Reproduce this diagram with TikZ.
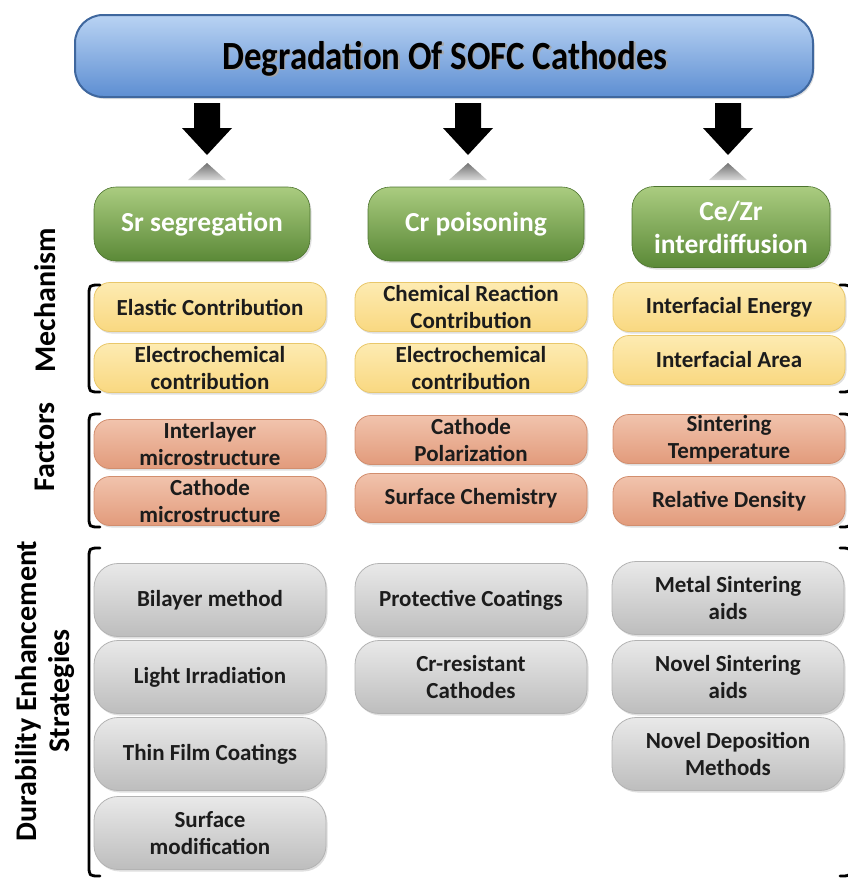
\documentclass[tikz,border=0pt]{standalone}
\usepackage{fontspec}
\setmainfont{Carlito}
\usetikzlibrary{shadows}

\definecolor{titletop}{HTML}{B9D3F3}
\definecolor{titlebot}{HTML}{5D8ED2}
\definecolor{titleedge}{HTML}{3F679E}
\definecolor{greentop}{HTML}{AACC80}
\definecolor{greenbot}{HTML}{5B8937}
\definecolor{mechtop}{HTML}{FDEBB2}
\definecolor{mechbot}{HTML}{F9D880}
\definecolor{mechedge}{HTML}{E9C76A}
\definecolor{factop}{HTML}{F1C3AC}
\definecolor{facbot}{HTML}{E29B7B}
\definecolor{facedge}{HTML}{D28E6E}
\definecolor{strattop}{HTML}{E9E9E9}
\definecolor{stratbot}{HTML}{BDBDBD}
\definecolor{stratedge}{HTML}{B3B3B3}
\definecolor{boxtext}{HTML}{1C1C1C}

\begin{document}
\begin{tikzpicture}[
	x=1pt, y=-1pt,
	line cap=round,
	line join=round,
	every node/.style={align=center, inner sep=0pt},
	soft shadow/.style={drop shadow={shadow xshift=1.5pt, shadow yshift=-2pt, opacity=0.25}},
	banner/.style={draw=titleedge, line width=2pt, rounded corners=28pt, top color=titletop, bottom color=titlebot, minimum width=738pt, minimum height=82pt, soft shadow},
	headtext/.style={font=\bfseries\fontsize{40}{42}\selectfont},
	cause/.style={draw=greenbot!85!black, line width=0.6pt, rounded corners=22pt, top color=greentop, bottom color=greenbot, minimum width=216pt, minimum height=74pt, text=white, font=\bfseries\fontsize{27.5}{33}\selectfont, soft shadow},
	box/.style={line width=0.8pt, rounded corners=16pt, minimum width=232pt, minimum height=49pt, text=boxtext, font=\bfseries\fontsize{23}{27}\selectfont, soft shadow},
	mech/.style={box, draw=mechedge, top color=mechtop, bottom color=mechbot},
	fact/.style={box, draw=facedge, top color=factop, bottom color=facbot},
	strat/.style={box, rounded corners=24pt, minimum height=73pt, draw=stratedge, top color=strattop, bottom color=stratbot},
	side/.style={rotate=90, font=\bfseries\fontsize{30}{33}\selectfont},
	bracket/.style={line width=2.8pt}
	]
	\useasboundingbox (0,0) rectangle (847,879);

	% title banner
	\node[banner] (title) at (444,56) {};
	\node[headtext, text=black!35, xshift=1.5pt, yshift=-1.5pt, anchor=base] at (445,69) {\scalebox{0.87}[1]{Degradation Of SOFC Cathodes}};
	\node[headtext, anchor=base] (titletext) at (445,69) {\scalebox{0.87}[1]{Degradation Of SOFC Cathodes}};

	% block arrows
	\foreach \x in {207,468,728} {
		\fill (\x-13,103) -- (\x+13,103) -- (\x+13,128) -- (\x+25,128) -- (\x,155) -- (\x-25,128) -- (\x-13,128) -- cycle;
		\shade[top color=black!55, bottom color=black!15] (\x,163) -- (\x+19,180) -- (\x-19,180) -- cycle;
	}

	% causes
	\node[cause] (cause1) at (202,224) {Sr segregation};
	\node[cause] (cause2) at (476,224) {Cr poisoning};
	\node[cause, minimum width=198pt, minimum height=81pt] (cause3) at (731,227) {Ce/Zr\\interdiffusion};

	% mechanism
	\node[mech] (mech11) at (210,307) {Elastic Contribution};
	\node[mech] (mech12) at (210,368) {Electrochemical\\contribution};
	\node[mech] (mech21) at (471,307) {Chemical Reaction\\Contribution};
	\node[mech] (mech22) at (471,368) {Electrochemical\\contribution};
	\node[mech] (mech31) at (729,307) {Interfacial Energy};
	\node[mech] (mech32) at (729,360) {Interfacial Area};

	% factors
	\node[fact] (fac11) at (210,444) {Interlayer\\microstructure};
	\node[fact] (fac12) at (210,501) {Cathode\\microstructure};
	\node[fact] (fac21) at (471,440) {Cathode\\Polarization};
	\node[fact] (fac22) at (471,498) {Surface Chemistry};
	\node[fact] (fac31) at (729,439) {Sintering\\Temperature};
	\node[fact] (fac32) at (729,501) {Relative Density};

	% strategies
	\node[strat] (str11) at (210,600) {Bilayer method};
	\node[strat] (str12) at (210,677) {Light Irradiation};
	\node[strat] (str13) at (210,754) {Thin Film Coatings};
	\node[strat] (str14) at (210,833) {Surface\\modification};
	\node[strat] (str21) at (471,600) {Protective Coatings};
	\node[strat] (str22) at (471,677) {Cr-resistant\\Cathodes};
	\node[strat] (str31) at (728,598) {Metal Sintering\\aids};
	\node[strat] (str32) at (728,677) {Novel Sintering\\aids};
	\node[strat] (str33) at (728,754) {Novel Deposition\\Methods};

	% row labels
	\node[side] (lblmech) at (45,300) {Mechanism};
	\node[side] (lblfac) at (45,447) {Factors};
	\node[side] (lbldur) at (45,691) {Durability Enhancement\\Strategies};

	% brackets
	\foreach \t/\b in {285/392, 414/527, 548/876} {
		\draw[bracket] (100,\t) .. controls (89,\t) .. (89,\t+11) -- (89,\b-11) .. controls (89,\b) .. (100,\b);
		\draw[bracket] (840,\t) .. controls (851,\t) .. (851,\t+11) -- (851,\b-11) .. controls (851,\b) .. (840,\b);
	}
\end{tikzpicture}
\end{document}
